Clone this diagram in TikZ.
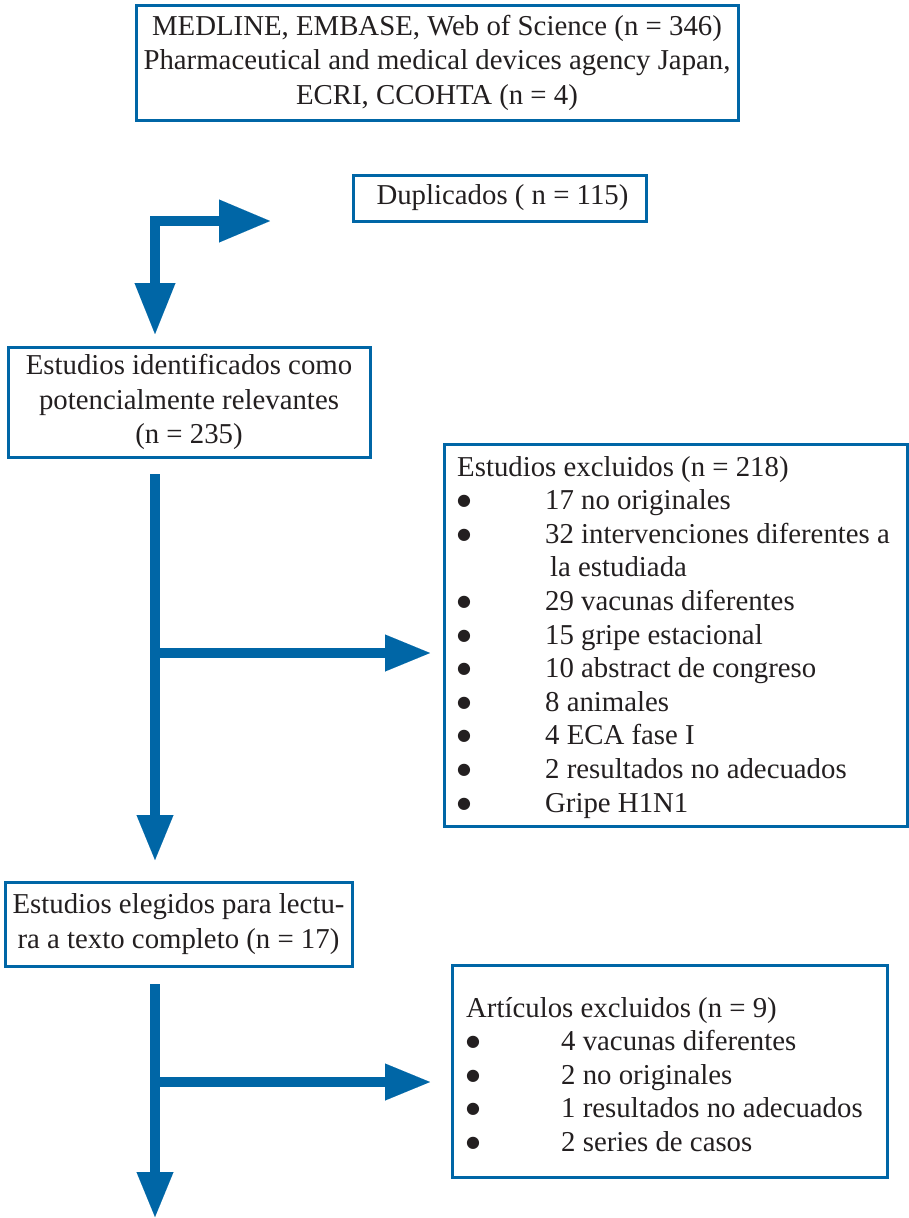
\documentclass[tikz,border=0pt]{standalone}
\usepackage{fontspec}
\setmainfont{Liberation Serif}
\newfontfamily\symfont{DejaVu Sans}
\usetikzlibrary{arrows.meta}
\definecolor{flowblue}{RGB}{0,102,166}
\definecolor{ink}{RGB}{35,31,32}
\newcommand{\bigbullet}{\raisebox{4pt}{\symfont\fontsize{16}{16}\selectfont ●}}
\begin{document}
\begin{tikzpicture}[x=1pt,y=-1pt,
  box/.style={draw=flowblue, line width=3pt, inner sep=0pt, text=ink, align=center,
    font=\fontsize{28.8}{34.5}\selectfont},
  listtext/.style={inner sep=0pt, text=ink, anchor=base west,
    font=\fontsize{28.8}{33.6}\selectfont},
  flow/.style={draw=flowblue, line width=10.5pt, line join=miter},
  bigtip/.style={-{Triangle[length=45pt,width=37pt,line width=0.01pt]}},
  elbowtip/.style={{Triangle[length=51pt,width=43pt,line width=0.01pt]}-{Triangle[length=51pt,width=41pt,line width=0.01pt]}}
]
\useasboundingbox (0,0) rectangle (909,1218);

% boxes
\node[box, minimum width=602pt, minimum height=115pt] (src) at (437,62.5)
  {MEDLINE, EMBASE, Web of Science (n = 346)\\Pharmaceutical and medical devices agency Japan,\\ECRI, CCOHTA (n = 4)};
\node[box, minimum width=293pt, minimum height=46pt] (dup) at (499.5,198)
  {\hspace{6pt}Duplicados ( n = 115)};
\node[box, minimum width=362pt, minimum height=110pt] (ident) at (189,402)
  {Estudios identificados como\\potencialmente relevantes\\(n = 235)};
\node[box, minimum width=463pt, minimum height=382pt] (excl) at (675.5,635) {};
\node[listtext] (excltext) at (457,476) {%
  \renewcommand\arraystretch{1}%
  \begin{tabular}[t]{@{}p{88pt}@{}l@{}}
  \multicolumn{2}{@{}l@{}}{Estudios excluidos (n = 218)}\\
  \bigbullet & 17 no originales\\
  \bigbullet & 32 intervenciones diferentes a\\
   & \hspace{5pt}la estudiada\\
  \bigbullet & 29 vacunas diferentes\\
  \bigbullet & 15 gripe estacional\\
  \bigbullet & 10 abstract de congreso\\
  \bigbullet & 8 animales\\
  \bigbullet & 4 ECA fase I\\
  \bigbullet & 2 resultados no adecuados\\
  \bigbullet & Gripe H1N1
  \end{tabular}};
\node[box, minimum width=347pt, minimum height=84pt] (elig) at (178.5,924)
  {Estudios elegidos para lectu-\\ra a texto completo (n = 17)};
\node[box, minimum width=435pt, minimum height=212pt] (art) at (669.5,1071) {};
\node[listtext] (arttext) at (466,1017) {%
  \renewcommand\arraystretch{1}%
  \begin{tabular}[t]{@{}p{95pt}@{}l@{}}
  \multicolumn{2}{@{}l@{}}{Artículos excluidos (n = 9)}\\
  \bigbullet & 4 vacunas diferentes\\
  \bigbullet & 2 no originales\\
  \bigbullet & 1 resultados no adecuados\\
  \bigbullet & 2 series de casos
  \end{tabular}};

% connector coordinates
\coordinate (e1) at (270,221);
\coordinate (e0) at (155,221);
\coordinate (e2) at (155,334);
\coordinate (a1) at (155,474);
\coordinate (a2) at (155,860);
\coordinate (b1) at (155,653);
\coordinate (b2) at (430,653);
\coordinate (c1) at (155,984);
\coordinate (c2) at (155,1217);
\coordinate (d1) at (155,1082);
\coordinate (d2) at (430,1082);

% connectors
\draw[flow, elbowtip] (e1) -- (e0) -- (e2);
\draw[flow, bigtip] (a1) -- (a2);
\draw[flow, bigtip] (b1) -- (b2);
\draw[flow, bigtip] (c1) -- (c2);
\draw[flow, bigtip] (d1) -- (d2);
\end{tikzpicture}
\end{document}
